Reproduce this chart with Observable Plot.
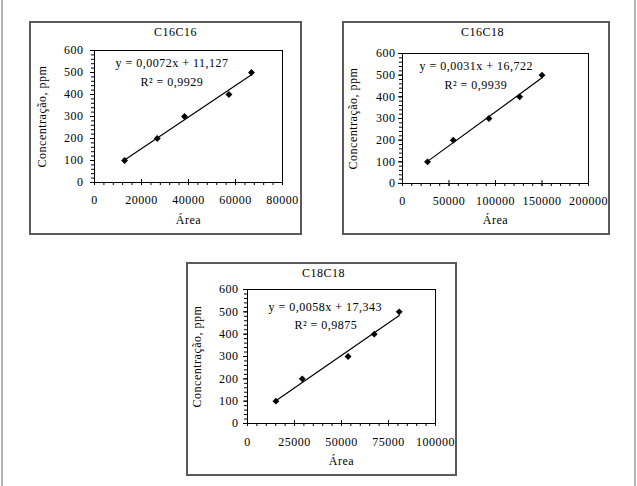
<!DOCTYPE html>
<html>
<head>
<meta charset="utf-8">
<script src="https://cdn.jsdelivr.net/npm/d3@7"></script>
<script src="https://cdn.jsdelivr.net/npm/@observablehq/plot@0.6"></script>
<style>
  html, body { margin: 0; padding: 0; background: #fff; }
  #page { position: relative; width: 637px; height: 486px; overflow: hidden; background: #fff; }
  .vline { position: absolute; top: 0; width: 2px; height: 486px; background: #b4b4b4; }
  .box { position: absolute; box-sizing: border-box; border: 2px solid #5a5a5a; pointer-events: none; }
  .chart { position: absolute; }
</style>
</head>
<body>
<div id="page">
  <div class="vline" style="left:1px"></div>
  <div class="vline" style="left:634px"></div>
</div>
<script>
// ---- data ----
const titles = ["C16C16", "C16C18", "C18C18"];
const concentration = [100, 200, 300, 400, 500];
const area1 = [12800, 26700, 38300, 57200, 66800];
const area2 = [26900, 54600, 92900, 126000, 150000];
const area3 = [15100, 29100, 53500, 67400, 80700];
const areas = [area1, area2, area3];
const equations = ["y = 0,0072x + 11,127", "y = 0,0031x + 16,722", "y = 0,0058x + 17,343"];
const r2Labels = ["R² = 0,9929", "R² = 0,9939", "R² = 0,9875"];
const xMaxima = [80000, 200000, 100000];
const xMajorSteps = [20000, 50000, 25000];
const yTicks = [0, 100, 200, 300, 400, 500, 600];
const yLabel = "Concentração, ppm";
const xLabel = "Área";

// ---- layout ----
const layout = [
  {left: 29, top: 21, W: 273, H: 214, mL: 65, mR: 20, mT: 29, mB: 53, yPad: 7, xPad: 10,
   tdx: -13, tdy: -18, edx: 21, edy: 13, rdx: 46, rdy: 32, ydx: -52, xdy: 38},
  {left: 342, top: 21, W: 268, H: 214, mL: 60, mR: 22, mT: 32, mB: 52, yPad: 3, xPad: 10,
   tdx: -13, tdy: -21, edx: 17, edy: 13, rdx: 42, rdy: 32, ydx: -49, xdy: 37},
  {left: 186, top: 262, W: 271, H: 214, mL: 61, mR: 22, mT: 27, mB: 53, yPad: 5, xPad: 11,
   tdx: -18, tdy: -16, edx: 21, edy: 18, rdx: 47, rdy: 36, ydx: -50, xdy: 38}
];

const page = document.getElementById("page");
const fmt = d3.format("d");

titles.forEach((title, i) => {
  const L = layout[i];
  const data = areas[i].map((a, k) => ({area: a, conc: concentration[k]}));
  const xMax = xMaxima[i], step = xMajorSteps[i];
  const xMajor = d3.range(0, xMax + 1, step);
  const xMinor = d3.range(0, xMax + 1, step / 5);
  const yMinor = d3.range(0, 601, 20);
  const plotH = L.H - L.mT - L.mB;

  const chart = Plot.plot({
    width: L.W, height: L.H,
    marginLeft: L.mL, marginRight: L.mR, marginTop: L.mT, marginBottom: L.mB,
    style: {fontFamily: "'Liberation Serif', 'Times New Roman', serif", fontSize: "12px",
            letterSpacing: "0.5px", background: "transparent", color: "#000", overflow: "visible"},
    x: {domain: [0, xMax], label: null},
    y: {domain: [0, 600], label: null},
    marks: [
      Plot.frame({stroke: "#000"}),
      Plot.axisY(yMinor, {tickSize: 3, tickFormat: () => "", label: null}),
      Plot.axisY(yTicks, {tickSize: 4, tickPadding: L.yPad, tickFormat: fmt, label: null}),
      Plot.axisX(xMinor, {tickSize: 3, tickFormat: () => "", label: null}),
      Plot.axisX(xMajor, {tickSize: 3, tickPadding: L.xPad, tickFormat: fmt, label: null}),
      Plot.tickX(xMajor, {insetTop: plotH - 3, stroke: "#000"}),
      Plot.linearRegressionY(data, {x: "area", y: "conc", ci: 0, stroke: "#000", strokeWidth: 1.2}),
      Plot.dot(data, {x: "area", y: "conc", symbol: "diamond2", r: 3.1, fill: "#000"}),
      Plot.text([title], {text: d => d, frameAnchor: "top", dx: L.tdx, dy: L.tdy, lineAnchor: "middle"}),
      Plot.text([equations[i]], {text: d => d, frameAnchor: "top-left", textAnchor: "start", dx: L.edx, dy: L.edy, lineAnchor: "middle"}),
      Plot.text([r2Labels[i]], {text: d => d, frameAnchor: "top-left", textAnchor: "start", dx: L.rdx, dy: L.rdy, lineAnchor: "middle"}),
      Plot.text([yLabel], {text: d => d, frameAnchor: "left", rotate: -90, dx: L.ydx, textAnchor: "middle", lineAnchor: "middle"}),
      Plot.text([xLabel], {text: d => d, frameAnchor: "bottom", dy: L.xdy, lineAnchor: "middle"})
    ]
  });
  const wrap = document.createElement("div");
  wrap.className = "chart";
  wrap.style.left = L.left + "px";
  wrap.style.top = L.top + "px";
  wrap.appendChild(chart);
  page.appendChild(wrap);

  const box = document.createElement("div");
  box.className = "box";
  box.style.left = L.left + "px";
  box.style.top = L.top + "px";
  box.style.width = L.W + "px";
  box.style.height = L.H + "px";
  page.appendChild(box);
});
</script>
</body>
</html>
